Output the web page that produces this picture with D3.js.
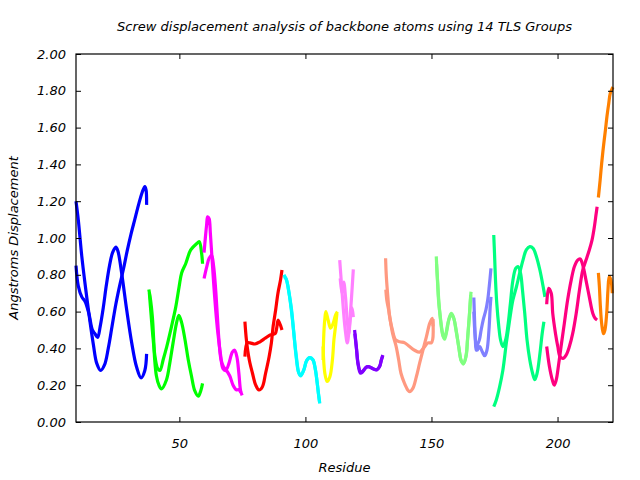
<!DOCTYPE html>
<html><head><meta charset="utf-8">
<script src="https://cdn.jsdelivr.net/npm/d3@7"></script>
<style>
body{margin:0;background:#fff;}
text{font-family:"DejaVu Sans",sans-serif;font-style:italic;fill:#000;}
</style></head>
<body><svg id="chart" width="640" height="480"></svg>
<script>
// ---- data: [residue, displacement] pairs, two traces per TLS group ----
const blueA=[[9,1.20],[9.9,1.10],[11.3,0.90],[12.6,0.75],[14.5,0.55],[15.9,0.42],[17.2,0.32],[18.8,0.28],[20.3,0.31],[21.8,0.40],[23.3,0.52],[24.8,0.64],[26.3,0.74],[27.8,0.83],[29.3,0.93],[30.8,1.02],[32.3,1.10],[33.8,1.18],[35.3,1.25],[36.3,1.28],[36.8,1.26],[37,1.18]];
const blueB=[[9,0.85],[9.9,0.74],[11.3,0.68],[12.6,0.655],[14.1,0.59],[15.5,0.50],[16.5,0.48],[17.6,0.46],[18.6,0.52],[19.8,0.62],[21,0.74],[22.3,0.85],[23.5,0.92],[24.8,0.95],[25.6,0.93],[27.1,0.81],[29.1,0.61],[31.1,0.43],[33,0.30],[34.8,0.24],[36.3,0.28],[37,0.37]];
const greenA=[[37.9,0.72],[38.6,0.66],[39.3,0.57],[39.8,0.45],[40.2,0.34],[40.9,0.25],[41.9,0.20],[42.9,0.18],[44.9,0.23],[46.2,0.32],[47.5,0.43],[48.9,0.54],[49.8,0.58],[50.9,0.54],[52.2,0.45],[53.5,0.34],[54.8,0.25],[56.1,0.17],[57.5,0.14],[58.5,0.17],[59.2,0.21]];
const greenB=[[38.1,0.70],[38.8,0.58],[39.6,0.45],[40.4,0.35],[41.4,0.29],[42.3,0.28],[43.6,0.34],[45,0.41],[46.9,0.52],[48.5,0.62],[49.9,0.735],[50.9,0.81],[52.5,0.86],[54.5,0.935],[56.9,0.97],[57.9,0.98],[58.8,0.92],[59.2,0.86]];
const magentaA=[[59.8,0.92],[60.3,1.00],[60.8,1.07],[61.2,1.115],[61.8,1.105],[62.3,1.025],[62.9,0.90],[63.6,0.755],[64.4,0.61],[65.3,0.48],[66.3,0.37],[67.3,0.29],[68.4,0.28],[69.7,0.32],[71,0.38],[71.9,0.39],[72.8,0.355],[73.6,0.265],[74.3,0.17],[74.9,0.145]];
const magentaB=[[59.8,0.78],[60.8,0.84],[61.8,0.89],[62.8,0.905],[63.6,0.845],[64.4,0.72],[65.1,0.57],[65.7,0.445],[66.5,0.34],[67.5,0.30],[68.7,0.28],[70,0.25],[71.3,0.20],[72.6,0.175],[73.6,0.175],[74.4,0.16]];
const redA=[[76,0.545],[76.6,0.445],[77.7,0.34],[79,0.265],[80.3,0.20],[81.6,0.174],[82.9,0.19],[84.2,0.265],[85.6,0.355],[86.5,0.43],[87.2,0.52],[88.2,0.61],[89.1,0.70],[90.1,0.77],[90.7,0.826]];
const redB=[[76,0.355],[76.9,0.43],[78,0.43],[80,0.424],[82,0.436],[84,0.455],[86,0.473],[88,0.48],[88.6,0.51],[89.2,0.554],[90.7,0.50]];
const cyanA=[[91.5,0.80],[92.5,0.77],[93.5,0.70],[94.5,0.61],[95.4,0.48],[96.4,0.355],[97.4,0.265],[98.1,0.25],[99.3,0.28],[100.4,0.33],[101.7,0.35],[103,0.337],[104,0.28],[104.7,0.21],[105.3,0.14],[105.7,0.10]];
const cyanB=[[91.5,0.79],[92.3,0.78],[93.3,0.72],[94.3,0.62],[95.3,0.50],[96.2,0.37],[97.3,0.27],[98.2,0.255],[99.4,0.285],[100.5,0.335],[101.6,0.35],[102.9,0.34],[103.9,0.29],[104.6,0.22],[105.2,0.15],[105.6,0.11]];
const yellowA=[[107,0.337],[107.3,0.48],[107.7,0.56],[108.1,0.60],[109,0.554],[110,0.51],[111,0.536],[111.9,0.58],[112.7,0.60]];
const yellowB=[[107,0.41],[107.7,0.265],[108.6,0.22],[109.7,0.246],[110.7,0.337],[111.3,0.446],[112,0.527],[112.5,0.59]];
const violetA=[[113.6,0.88],[114.3,0.75],[115,0.62],[115.8,0.50],[116.6,0.43],[117.3,0.50],[118.2,0.66],[119,0.83]];
const violetB=[[113.8,0.78],[114.5,0.70],[115.2,0.76],[115.9,0.68],[116.6,0.55],[117.2,0.48],[117.8,0.56],[118.5,0.62],[119,0.57]];
const purpleA=[[119.5,0.50],[120.2,0.41],[120.8,0.32],[121.8,0.265],[122.8,0.274],[124.1,0.297],[125.4,0.30],[126.8,0.29],[128.3,0.283],[129.4,0.30],[130.1,0.337],[130.7,0.364]];
const purpleB=[[119.6,0.48],[120.3,0.39],[121,0.31],[122,0.27],[123,0.28],[124.3,0.30],[125.6,0.298],[127,0.288],[128.4,0.285],[129.5,0.305],[130.2,0.34],[130.7,0.36]];
const salmonA=[[131.8,0.89],[132.1,0.79],[132.8,0.663],[133.4,0.572],[134.5,0.50],[135.8,0.446],[137.4,0.436],[139.4,0.43],[141.3,0.41],[143.3,0.39],[145.3,0.38],[147.3,0.41],[148.6,0.43],[149.9,0.43],[150.5,0.45],[150.6,0.56]];
const salmonB=[[131.9,0.72],[132.3,0.66],[133,0.61],[134.6,0.48],[136,0.41],[137,0.337],[137.9,0.265],[139.3,0.21],[140.6,0.174],[141.3,0.165],[142.6,0.183],[144,0.246],[145.3,0.32],[146.6,0.39],[148,0.464],[149.3,0.536],[150.3,0.564],[150.6,0.52]];
const lgreenA=[[151.9,0.90],[152.3,0.79],[152.8,0.663],[153.5,0.572],[154.3,0.49],[154.9,0.46],[155.5,0.47],[156.5,0.536],[157.8,0.59],[158.7,0.572],[159.7,0.50],[160.8,0.41],[161.7,0.337],[162.6,0.315],[163.7,0.355],[164.3,0.446],[165,0.572],[165.4,0.663],[165.7,0.708]];
const lgreenB=[[152,0.86],[152.5,0.75],[153,0.64],[153.7,0.54],[154.5,0.47],[155.2,0.45],[156,0.49],[157,0.56],[157.9,0.585],[158.9,0.56],[159.9,0.49],[160.9,0.40],[161.9,0.33],[162.8,0.32],[163.8,0.37],[164.4,0.47],[165.1,0.59],[165.6,0.69]];
const slateA=[[166.8,0.677],[167.1,0.554],[167.4,0.446],[167.7,0.39],[168.3,0.42],[169,0.446],[169.7,0.50],[170.5,0.554],[171.6,0.61],[172.3,0.663],[172.9,0.735],[173.6,0.835]];
const slateB=[[166.8,0.60],[167.3,0.47],[168.1,0.39],[169.1,0.41],[170.2,0.38],[171.1,0.36],[172,0.39],[172.8,0.50],[173.3,0.627],[173.6,0.68]];
const springA=[[174.7,1.016],[175,0.917],[175.4,0.77],[175.9,0.645],[176.7,0.52],[177.4,0.446],[178.3,0.41],[179.4,0.446],[180.3,0.52],[181.3,0.645],[182.3,0.77],[183.4,0.835],[184.3,0.845],[185.3,0.81],[186.1,0.717],[187,0.59],[187.9,0.446],[189,0.337],[190.1,0.265],[191,0.23],[191.9,0.265],[193,0.37],[193.9,0.48],[194.6,0.545]];
const springB=[[174.7,0.083],[175.7,0.12],[177,0.19],[178.3,0.28],[179.7,0.43],[181,0.554],[182.3,0.663],[183.7,0.735],[185,0.81],[186.3,0.88],[187.6,0.935],[189,0.953],[190.3,0.944],[191.6,0.90],[193,0.826],[194.3,0.735],[195,0.68]];
const pinkA=[[195.7,0.64],[196.5,0.727],[197.5,0.70],[198.1,0.59],[199.2,0.48],[200.1,0.41],[201,0.355],[202.1,0.346],[203.4,0.364],[204.7,0.41],[206,0.48],[207.4,0.59],[208.7,0.717],[210,0.826],[211.3,0.88],[212.6,0.935],[213.7,0.99],[214.6,1.06],[215.3,1.13],[215.7,1.17]];
const pinkB=[[195.7,0.41],[196.8,0.30],[197.9,0.23],[198.7,0.20],[199.5,0.23],[200.5,0.32],[201.4,0.41],[202.7,0.536],[204,0.663],[205.4,0.77],[206.7,0.845],[208,0.88],[209,0.886],[210,0.853],[211.3,0.77],[212.6,0.68],[214,0.59],[214.9,0.564],[215.7,0.554]];
const orangeA=[[216.2,1.22],[216.9,1.315],[217.5,1.405],[218.2,1.496],[219,1.587],[219.6,1.66],[220.3,1.73],[220.9,1.786],[221.6,1.81],[222,1.82]];
const orangeB=[[216.2,0.81],[216.6,0.735],[217,0.627],[217.5,0.536],[218.2,0.48],[218.8,0.50],[219.5,0.59],[220,0.717],[220.5,0.79],[221.2,0.77],[221.7,0.70]];

const groupColors=["#0000ff","#00ff00","#ff00ff","#ff0000","#00ffff","#ffff00","#ff80ff","#8000ff","#ff9980","#80ff80","#8080ff","#00ff80","#ff0080","#ff8000"];
const xTicks=[50,100,150,200];
const yTicks=[0,0.2,0.4,0.6,0.8,1.0,1.2,1.4,1.6,1.8,2.0];
const titleText="Screw displacement analysis of backbone atoms using 14 TLS Groups";
const xLabel="Residue", yLabel="Angstroms Displacement";

const groups=[[blueA,blueB],[greenA,greenB],[magentaA,magentaB],[redA,redB],[cyanA,cyanB],[yellowA,yellowB],[violetA,violetB],[purpleA,purpleB],[salmonA,salmonB],[lgreenA,lgreenB],[slateA,slateB],[springA,springB],[pinkA,pinkB],[orangeA,orangeB]];

// ---- layout ----
const W=640,H=480,m={l:76,r:27,t:54,b:58};
const FS="13px";
const svg=d3.select("#chart");
const x=d3.scaleLinear().domain([9,222]).range([m.l,W-m.r]);
const y=d3.scaleLinear().domain([0,2]).range([H-m.b,m.t]);
const tl=5;

const line=d3.line().x(d=>x(d[0])).y(d=>y(d[1])).curve(d3.curveCatmullRom.alpha(0.5));
const plot=svg.append("g");
groups.forEach((g,i)=>{
  g.forEach(tr=>{
    plot.append("path").attr("d",line(tr)).attr("fill","none")
      .attr("stroke",groupColors[i]).attr("stroke-width",3.2).attr("stroke-linejoin","round");
  });
});

// axes (ticks inward on all four sides)
const fmt=d3.format(".2f");
const gl=svg.append("g").attr("transform",`translate(${m.l},0)`)
  .call(d3.axisLeft(y).tickValues(yTicks).tickSize(-tl).tickPadding(10).tickFormat(fmt));
const gr=svg.append("g").attr("transform",`translate(${W-m.r},0)`)
  .call(d3.axisRight(y).tickValues(yTicks).tickSize(-tl).tickFormat(""));
const gb=svg.append("g").attr("transform",`translate(0,${H-m.b})`)
  .call(d3.axisBottom(x).tickValues(xTicks).tickSize(-tl).tickPadding(17).tickFormat(d3.format("d")));
const gt=svg.append("g").attr("transform",`translate(0,${m.t})`)
  .call(d3.axisTop(x).tickValues(xTicks).tickSize(-tl).tickFormat(""));
[gl,gr,gb,gt].forEach(g=>{
  g.select(".domain").remove();
  g.selectAll("line").attr("stroke","#000");
  g.selectAll("text").style("font-family","'DejaVu Sans',sans-serif").style("font-style","italic").style("font-size",FS).attr("fill","#000");
});
svg.append("rect").attr("x",m.l).attr("y",m.t).attr("width",W-m.l-m.r).attr("height",H-m.t-m.b)
  .attr("fill","none").attr("stroke","#000").attr("stroke-width",1.2);

svg.append("text").attr("x",(m.l+W-m.r)/2).attr("y",31).attr("text-anchor","middle").style("font-size",FS).text(titleText);
svg.append("text").attr("x",(m.l+W-m.r)/2).attr("y",472).attr("text-anchor","middle").style("font-size",FS).text(xLabel);
svg.append("text").attr("transform",`translate(18,${(m.t+H-m.b)/2}) rotate(-90)`).attr("text-anchor","middle").style("font-size",FS).text(yLabel);
</script></body></html>
